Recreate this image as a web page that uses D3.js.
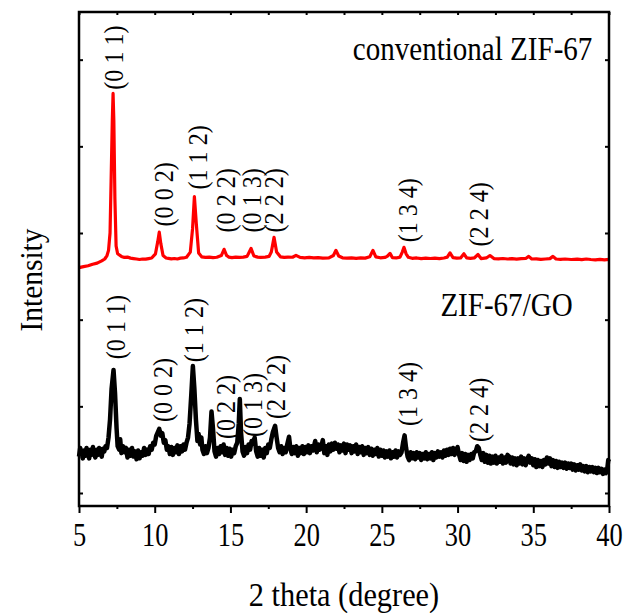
<!DOCTYPE html>
<html>
<head>
<meta charset="utf-8">
<script src="https://cdn.jsdelivr.net/npm/d3@7"></script>
<style>
  body { margin: 0; background: #fff; }
  svg text { font-family: "Liberation Serif", "Times New Roman", serif; fill: #000; }
</style>
</head>
<body>
<div id="chart"></div>
<script>
// XRD patterns, [2 theta, intensity a.u.]
const conventional = [
  [5.0,2600],[5.3,2612],[5.6,2622],[5.9,2640],[6.2,2652],[6.5,2678],[6.7,2700],[6.85,2740],[6.95,2800],
  [7.05,3000],[7.12,3600],[7.2,4300],[7.25,4610],[7.3,4300],[7.37,3400],[7.45,2850],[7.55,2760],[7.8,2730],
  [8.0,2718],[8.2,2722],[8.4,2710],[8.6,2705],[8.8,2700],[9.0,2694],[9.2,2700],[9.4,2698],[9.6,2705],[9.8,2712],
  [10.05,2760],[10.2,2900],[10.3,3010],[10.4,2880],[10.55,2740],[10.75,2712],[10.9,2708],[11.1,2702],[11.3,2706],
  [11.5,2700],[11.7,2710],[11.9,2712],[12.1,2720],[12.35,2780],[12.5,3050],[12.62,3420],[12.75,3100],[12.9,2770],
  [13.1,2725],[13.35,2718],[13.6,2722],[13.85,2715],[14.1,2720],[14.4,2740],[14.58,2812],[14.75,2740],[14.9,2722],
  [15.1,2716],[15.35,2722],[15.6,2718],[15.85,2722],[16.1,2730],[16.36,2822],[16.55,2735],[16.8,2722],[17.0,2718],
  [17.3,2722],[17.55,2730],[17.7,2780],[17.88,2950],[18.05,2780],[18.3,2725],[18.55,2718],[18.8,2722],[19.1,2720],
  [19.33,2742],[19.6,2718],[19.9,2714],[20.2,2718],[20.5,2712],[20.8,2716],[21.1,2710],[21.5,2712],[21.8,2740],
  [21.97,2800],[22.15,2735],[22.4,2714],[22.7,2710],[23.0,2714],[23.3,2708],[23.6,2712],[23.9,2710],[24.2,2725],
  [24.41,2800],[24.6,2725],[24.9,2714],[25.2,2718],[25.35,2730],[25.54,2765],[25.7,2715],[25.95,2712],[26.2,2722],
  [26.35,2780],[26.46,2835],[26.6,2760],[26.75,2720],[27.0,2708],[27.3,2712],[27.6,2704],[27.9,2710],[28.2,2706],
  [28.5,2710],[28.8,2704],[29.1,2712],[29.32,2722],[29.5,2770],[29.7,2715],[29.95,2710],[30.2,2712],[30.42,2760],
  [30.6,2712],[30.85,2708],[31.1,2712],[31.35,2752],[31.55,2705],[31.9,2712],[32.14,2740],[32.4,2705],[32.7,2702],
  [33.0,2706],[33.3,2700],[33.6,2704],[33.9,2698],[34.2,2704],[34.5,2706],[34.7,2730],[34.9,2700],[35.2,2702],
  [35.5,2696],[35.8,2700],[36.1,2704],[36.3,2730],[36.5,2700],[36.8,2696],[37.1,2700],[37.5,2694],[37.9,2698],
  [38.2,2692],[38.5,2700],[38.8,2694],[39.1,2690],[39.4,2696],[39.7,2690],[40.0,2695]
]
const zif_go = [
  [5.0,420],[5.08,520],[5.17,450],[5.25,400],[5.33,490],[5.42,430],[5.5,520],[5.58,460],[5.67,400],[5.75,500],
  [5.83,440],[5.92,530],[6.0,450],[6.08,410],[6.17,500],[6.25,440],[6.33,520],[6.42,470],[6.5,420],[6.58,510],
  [6.67,480],[6.75,540],[6.85,520],[6.95,640],[7.05,850],[7.15,1200],[7.28,1420],[7.38,1150],[7.48,750],[7.55,540],
  [7.65,500],[7.72,620],[7.8,460],[7.9,540],[8.0,470],[8.1,520],[8.2,410],[8.3,500],[8.4,430],[8.5,520],
  [8.6,420],[8.7,480],[8.8,390],[8.9,490],[9.0,400],[9.1,470],[9.2,430],[9.3,520],[9.4,440],[9.5,500],
  [9.6,450],[9.7,540],[9.8,500],[9.9,580],[10.0,560],[10.1,660],[10.2,700],[10.3,740],[10.4,660],[10.5,690],
  [10.6,580],[10.7,610],[10.8,500],[10.9,540],[11.0,450],[11.1,530],[11.2,440],[11.3,520],[11.4,470],[11.5,550],
  [11.6,450],[11.7,540],[11.8,480],[11.9,560],[12.0,500],[12.1,580],[12.2,640],[12.3,800],[12.42,1150],[12.52,1465],
  [12.62,1200],[12.72,850],[12.82,600],[12.9,680],[13.0,560],[13.08,640],[13.15,500],[13.25,450],[13.35,540],[13.45,460],
  [13.55,520],[13.65,640],[13.75,940],[13.85,740],[13.95,480],[14.05,420],[14.15,520],[14.25,450],[14.35,540],[14.45,470],
  [14.55,560],[14.65,440],[14.75,520],[14.85,430],[14.95,510],[15.05,420],[15.15,500],[15.25,460],[15.35,540],[15.45,580],
  [15.55,800],[15.62,1085],[15.7,700],[15.8,480],[15.9,430],[16.0,530],[16.1,460],[16.2,560],[16.3,500],[16.4,600],
  [16.5,570],[16.6,640],[16.7,480],[16.8,420],[16.9,520],[17.0,430],[17.1,500],[17.2,410],[17.3,520],[17.4,460],
  [17.5,560],[17.6,520],[17.7,620],[17.8,700],[17.95,775],[18.05,640],[18.15,520],[18.25,470],[18.35,540],[18.45,450],
  [18.55,520],[18.65,470],[18.75,560],[18.87,650],[18.97,500],[19.05,450],[19.15,530],[19.25,460],[19.35,540],[19.45,430],
  [19.55,520],[19.65,460],[19.75,540],[19.85,450],[19.95,530],[20.05,470],[20.15,550],[20.25,460],[20.35,540],[20.45,490],
  [20.6,600],[20.7,470],[20.8,560],[20.9,500],[21.0,540],[21.1,610],[21.2,460],[21.3,540],[21.4,440],[21.5,560],
  [21.6,480],[21.7,570],[21.8,500],[21.9,580],[22.0,510],[22.1,560],[22.2,470],[22.3,550],[22.4,490],[22.5,570],
  [22.6,460],[22.7,560],[22.8,500],[22.9,550],[23.0,460],[23.1,540],[23.2,480],[23.3,560],[23.4,450],[23.5,530],
  [23.6,470],[23.7,540],[23.8,440],[23.9,520],[24.0,460],[24.1,530],[24.2,440],[24.3,510],[24.4,430],[24.5,500],
  [24.6,450],[24.7,520],[24.8,420],[24.9,500],[25.0,430],[25.1,490],[25.2,410],[25.3,480],[25.4,420],[25.5,490],
  [25.6,400],[25.7,470],[25.8,420],[25.9,490],[26.0,410],[26.1,480],[26.2,440],[26.3,470],[26.4,580],[26.5,665],
  [26.6,520],[26.7,420],[26.8,380],[26.9,470],[27.0,400],[27.1,460],[27.2,390],[27.3,470],[27.4,410],[27.5,460],
  [27.6,380],[27.7,450],[27.8,400],[27.9,470],[28.0,390],[28.1,450],[28.2,400],[28.3,470],[28.4,380],[28.5,460],
  [28.6,410],[28.7,480],[28.8,420],[28.9,470],[29.0,410],[29.1,490],[29.2,430],[29.3,500],[29.4,440],[29.5,510],
  [29.6,450],[29.7,520],[29.8,440],[29.9,500],[30.0,530],[30.1,440],[30.2,380],[30.3,460],[30.4,370],[30.5,450],
  [30.6,360],[30.7,440],[30.8,380],[30.9,450],[31.0,400],[31.1,470],[31.2,480],[31.3,540],[31.4,520],[31.5,440],
  [31.6,380],[31.7,460],[31.8,360],[31.9,440],[32.0,350],[32.1,430],[32.2,340],[32.3,420],[32.4,350],[32.5,430],
  [32.6,340],[32.7,410],[32.8,360],[32.9,430],[33.0,340],[33.1,410],[33.2,350],[33.3,440],[33.4,420],[33.5,340],
  [33.6,410],[33.7,330],[33.8,400],[33.9,320],[34.0,400],[34.1,340],[34.2,420],[34.3,330],[34.4,400],[34.5,320],
  [34.6,390],[34.7,430],[34.8,350],[34.9,400],[35.0,320],[35.1,390],[35.2,300],[35.3,380],[35.4,310],[35.5,370],
  [35.6,300],[35.7,380],[35.8,330],[35.9,410],[36.0,340],[36.1,400],[36.2,310],[36.3,380],[36.4,300],[36.5,370],
  [36.6,290],[36.7,360],[36.8,300],[36.9,350],[37.0,290],[37.1,350],[37.2,280],[37.3,340],[37.4,290],[37.5,340],
  [37.6,270],[37.7,330],[37.8,260],[37.9,320],[38.0,270],[38.1,330],[38.2,260],[38.3,310],[38.4,250],[38.5,310],
  [38.6,240],[38.7,300],[38.8,250],[38.9,300],[39.0,240],[39.1,290],[39.2,230],[39.3,290],[39.4,240],[39.5,280],
  [39.6,220],[39.7,270],[39.8,230],[39.9,300],[39.95,380],[40.0,360]
]

// labels sit just above each peak (2 theta, intensity at the foot of the label)
const hkl = ["(0 1 1)", "(0 0 2)", "(1 1 2)", "(0 2 2)", "(0 1 3)", "(2 2 2)", "(1 3 4)", "(2 2 4)"]
const conventional_label_x = [7.25, 10.55, 12.8, 14.65, 16.35, 17.85, 26.7, 31.35]
const conventional_label_y = [4654, 3076, 3502, 3007, 3007, 3007, 2892, 2845]
const zif_go_label_x = [7.38, 10.48, 12.53, 14.64, 16.42, 17.94, 26.66, 31.35]
const zif_go_label_y = [1544, 818, 1509, 622, 645, 853, 772, 588]

const series_names = ["conventional ZIF-67", "ZIF-67/GO"]
const series_name_x = [38.9, 37.6]
const series_name_y = [5000, 2040]

const x_ticks = [5, 10, 15, 20, 25, 30, 35, 40]
const x_minor = [7.5, 12.5, 17.5, 22.5, 27.5, 32.5, 37.5]
const x_top = [5, 7.5, 10, 12.5, 15, 17.5, 20, 22.5, 25, 27.5, 30, 32.5, 35, 37.5, 40]
const y_ticks = [0, 1000, 2000, 3000, 4000, 5000]

let font = '"Liberation Serif", "Times New Roman", serif'

let width = 630,
    height = 613,
    margin = {top: 12, right: 21, bottom: 107, left: 79}

let x = d3.scaleLinear()
    .domain([5, 40])
    .range([margin.left, width - margin.right])
let y = d3.scaleLinear()
    .domain([-150, 5550])
    .range([height - margin.bottom, margin.top])

let svg = d3.select("#chart").append("svg")
    .attr("width", width)
    .attr("height", height)
    .style("font-family", font)

let line = d3.line()
    .x(function(d) { return x(d[0]) })
    .y(function(d) { return y(d[1]) })

svg.append("path")
    .datum(conventional)
    .attr("d", line)
    .style("fill", "none")
    .style("stroke", "#ff0000")
    .style("stroke-width", 3.2)
    .style("stroke-linejoin", "round")

svg.append("path")
    .datum(zif_go)
    .attr("d", line)
    .style("fill", "none")
    .style("stroke", "#000")
    .style("stroke-width", 4.5)
    .style("stroke-linejoin", "round")

// axes
function style_axis(g) {
  g.attr("font-family", null)
  g.select(".domain").remove()
  g.selectAll(".tick line").style("stroke", "#000").style("stroke-width", 2)
}

svg.append("g")
    .attr("transform", "translate(0," + y.range()[0] + ")")
    .call(d3.axisBottom(x).tickValues(x_minor).tickSize(3).tickFormat(""))
    .call(style_axis)

let bottom = svg.append("g")
    .attr("transform", "translate(0," + y.range()[0] + ")")
    .call(d3.axisBottom(x).tickValues(x_ticks).tickSize(7).tickPadding(10).tickFormat(d3.format("d")))
    .call(style_axis)
bottom.selectAll(".tick text")
    .style("font-family", font)
    .style("font-size", "33px")
    .attr("transform", "scale(0.8,1)")
    .attr("dy", "0.71em")

svg.append("g")
    .attr("transform", "translate(0," + y.range()[1] + ")")
    .call(d3.axisBottom(x).tickValues(x_top).tickSize(3).tickFormat(""))
    .call(style_axis)

svg.append("g")
    .attr("transform", "translate(" + x.range()[0] + ",0)")
    .call(d3.axisRight(y).tickValues(y_ticks).tickSize(4).tickFormat(""))
    .call(style_axis)

svg.append("g")
    .attr("transform", "translate(" + x.range()[1] + ",0)")
    .call(d3.axisLeft(y).tickValues(y_ticks).tickSize(4).tickFormat(""))
    .call(style_axis)

svg.append("rect")
    .attr("x", x.range()[0])
    .attr("y", y.range()[1])
    .attr("width", x.range()[1] - x.range()[0])
    .attr("height", y.range()[0] - y.range()[1])
    .style("fill", "none")
    .style("stroke", "#000")
    .style("stroke-width", 2.5)

// hkl labels
function add_labels(xs, ys) {
  svg.selectAll(null)
      .data(hkl).enter()
      .append("text")
        .attr("transform", function(d, i) {
          return "translate(" + x(xs[i]) + "," + y(ys[i]) + ") rotate(-90) scale(0.86,1)"
        })
        .attr("dy", "0.35em")
        .style("font-family", font)
        .style("font-size", "28px")
        .text(function(d) { return d })
}
add_labels(conventional_label_x, conventional_label_y)
add_labels(zif_go_label_x, zif_go_label_y)

svg.selectAll(".series-name")
    .data(series_names).enter()
    .append("text")
      .classed("series-name", true)
      .attr("transform", function(d, i) {
        return "translate(" + x(series_name_x[i]) + "," + y(series_name_y[i]) + ") scale(0.88,1)"
      })
      .attr("text-anchor", "end")
      .style("font-family", font)
      .style("font-size", "33px")
      .text(function(d) { return d })

svg.append("text")
    .attr("transform", "translate(" + (x.range()[0] + x.range()[1]) / 2 + ",606) scale(0.92,1)")
    .attr("text-anchor", "middle")
    .style("font-family", font)
    .style("font-size", "33px")
    .text("2 theta (degree)")

svg.append("text")
    .attr("transform", "translate(42,280) rotate(-90) scale(0.92,1)")
    .attr("text-anchor", "middle")
    .style("font-family", font)
    .style("font-size", "32px")
    .text("Intensity")
</script>
</body>
</html>
